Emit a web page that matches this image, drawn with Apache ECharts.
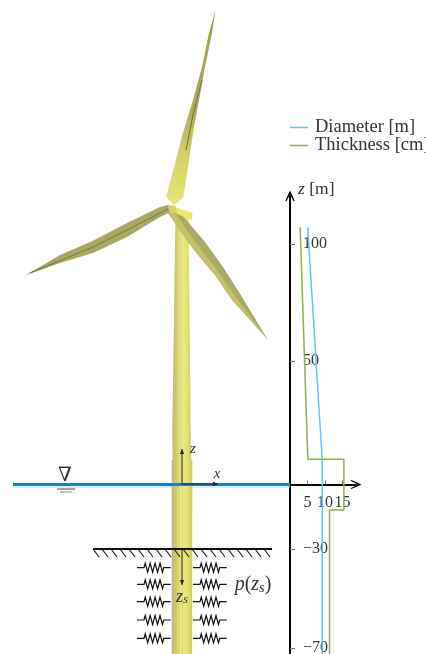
<!DOCTYPE html>
<html>
<head>
<meta charset="utf-8">
<style>
  html, body { margin: 0; padding: 0; background: #fff; overflow: hidden; }
  #main { width: 426px; height: 654px; }
</style>
</head>
<body>
<div id="main"></div>
<script src="https://cdn.jsdelivr.net/npm/echarts@6/dist/echarts.min.js"></script>
<script>
// profile along the tower: [value, z]
const diameter = [[5.05, 107], [9.2, 10.5], [9.2, -70.5]];
const thickness = [[2.9, 107], [5.1, 10.5], [15.4, 10.5], [15.4, -10.6], [11.3, -10.6], [11.3, -70.5]];
const xTicks = [5, 10, 15];
const zTicks = [-68, -26.8, 51.4, 100];   // the reference draws its labels at these heights
const zTickLabels = ['\u221270', '\u221230', '50', '100'];

// turbine sketch, in page pixels of the scene grid
const towerUpper = [[175.5, 215], [188.5, 215], [190.7, 430], [191.2, 460], [172.6, 460], [172.3, 430]];
const towerLower = [[171.7, 460], [192.3, 460], [192, 654], [171.7, 654]];
const bladeTop = [[215.5, 10], [212, 33], [205, 67], [199, 100], [193, 133], [188, 167], [183, 198], [174, 205], [166, 197], [174, 167], [183, 133], [193, 100], [202, 67], [209, 33]];
const bladeLeft = [[25, 275.5], [60, 255], [93, 240.7], [127, 223], [160, 207], [168, 205], [171, 212], [160, 217], [127, 237], [93, 253], [60, 263]];
const bladeRight = [[176, 208], [188, 222], [205, 242], [223, 267], [242, 297], [268, 340], [252, 322], [232, 300], [215, 275], [198, 255], [188, 242], [175, 223], [168, 213]];
const bladeRightBand = [[176, 214], [196, 243], [214, 266], [240, 303], [268, 340], [252, 322], [232, 300], [215, 275], [198, 255], [188, 242], [175, 223], [168, 213]];
const nacelle = [[175, 207], [192.7, 213], [191.7, 220], [173, 212]];
const hub = [[168, 205], [176, 206], [177, 213], [170, 214]];
const stripeTop = [[202, 80], [193, 115], [186, 150]];
const stripeLeft = [[30, 273], [93, 247], [127, 230], [168, 209]];
const waterLine = [[13, 484.5], [290, 484.5]];
const waterHalo = [[13, 487], [290, 487]];
const surfaceMarks = [[[57, 489], [75, 489]], [[60, 492], [72, 492]]];
const soilLine = [[93, 549], [272, 549]];
const hatchStarts = [93, 102, 111, 120, 129, 138, 147, 156, 165, 174, 183, 192, 201, 210, 219, 228, 237, 246, 255, 264];
const springRows = [567.7, 584.3, 601.7, 620, 638.3];
const springSpans = [[137, 170.7], [193, 226.7]];
const localZ = [[182, 484], [182, 449]];
const localX = [[182, 484], [218, 484]];
const localZs = [[182, 549], [182, 585]];
const sceneTexts = [
  { pos: [65, 476], text: '\u2207', size: 20 },
  { pos: [193, 449], text: '{i|z}', size: 15 },
  { pos: [217, 474], text: '{i|x}', size: 15 },
  { pos: [182, 597], text: '{i|z}{s|s}', size: 18 },
  { pos: [253, 585], text: '{i|p}({i|z}{s|s})', size: 20 }
];

const serif = '"Liberation Serif", "DejaVu Serif", serif';
const arrowPath = 'path://M0 11L5 0L10 11L9 12L5 4L1 12Z';

function polygonSeries(points, fill, z) {
  return {
    type: 'custom', xAxisIndex: 0, yAxisIndex: 0, z: z, clip: false, silent: true,
    data: [0],
    renderItem: function (params, api) {
      return {
        type: 'polygon',
        shape: { points: points.map(p => api.coord(p)) },
        style: { fill: fill, stroke: null }
      };
    }
  };
}

function lineSeries(points, color, width, z) {
  return {
    type: 'line', xAxisIndex: 0, yAxisIndex: 0, z: z, data: points, symbol: 'none',
    silent: true, animation: false, lineStyle: { color: color, width: width }
  };
}

// small filled head at the end of a sketch arrow
function arrowHead(points, z) {
  const a = points[0], b = points[1];
  const len = Math.hypot(b[0] - a[0], b[1] - a[1]);
  const ux = (b[0] - a[0]) / len, uy = (b[1] - a[1]) / len;
  return polygonSeries([
    b,
    [b[0] - ux * 5 - uy * 2.2, b[1] - uy * 5 + ux * 2.2],
    [b[0] - ux * 5 + uy * 2.2, b[1] - uy * 5 - ux * 2.2]
  ], '#222', z);
}

const towerFill = new echarts.graphic.LinearGradient(0, 0, 1, 0, [
  { offset: 0, color: '#bdb963' }, { offset: 0.28, color: '#d4d16c' },
  { offset: 0.48, color: '#eeeb87' }, { offset: 0.5, color: '#b9b66a' },
  { offset: 0.54, color: '#ecea82' }, { offset: 0.8, color: '#e2df74' },
  { offset: 1, color: '#cbc862' }
]);
const bladeTopFill = new echarts.graphic.LinearGradient(0, 1, 1, 0, [
  { offset: 0, color: '#e8e676' }, { offset: 0.25, color: '#d2d06a' },
  { offset: 0.5, color: '#aeac5a' }, { offset: 1, color: '#9b9a55' }
]);

const hatchSeries = {
  type: 'custom', xAxisIndex: 0, yAxisIndex: 0, z: 6, silent: true, clip: false,
  data: hatchStarts,
  renderItem: function (params, api) {
    const x = api.value(0);
    const from = api.coord([x, 549]), to = api.coord([x + 6, 557]);
    return {
      type: 'line',
      shape: { x1: from[0], y1: from[1], x2: to[0], y2: to[1] },
      style: { stroke: '#222', lineWidth: 1.2 }
    };
  }
};

const springSeries = {
  type: 'custom', xAxisIndex: 0, yAxisIndex: 0, z: 6, silent: true, clip: false,
  data: springRows,
  renderItem: function (params, api) {
    const y = api.value(0);
    const children = springSpans.map(function (span) {
      const lead = 7, teeth = 8, a = span[0] + lead, b = span[1] - lead;
      const pts = [[span[0], y], [a, y]];
      for (let i = 0; i < teeth; i++) {
        pts.push([a + (b - a) * (i + 0.5) / teeth, y + (i % 2 ? 4.5 : -4.5)]);
      }
      pts.push([b, y], [span[1], y]);
      return {
        type: 'polyline',
        shape: { points: pts.map(p => api.coord(p)) },
        style: { stroke: '#111', lineWidth: 1.2, fill: null }
      };
    });
    return { type: 'group', children: children };
  }
};

const textSeries = {
  type: 'custom', xAxisIndex: 0, yAxisIndex: 0, z: 8, silent: true, clip: false,
  data: sceneTexts.map((t, i) => [t.pos[0], t.pos[1], i]),
  renderItem: function (params, api) {
    const t = sceneTexts[params.dataIndex];
    const c = api.coord(t.pos);
    return {
      type: 'text', x: c[0], y: c[1],
      style: {
        text: t.text, fill: '#333', align: 'center', verticalAlign: 'middle',
        font: t.size + 'px ' + serif,
        rich: {
          i: { fontStyle: 'italic', fontFamily: serif, fontSize: t.size, fill: '#333' },
          s: { fontStyle: 'italic', fontFamily: serif, fontSize: t.size * 0.72, fill: '#333', padding: [6, 0, 0, 0] }
        }
      }
    };
  }
};

const option = {
  animation: false,
  backgroundColor: '#ffffff',
  textStyle: { fontFamily: serif },
  legend: {
    data: ['Diameter [m]', 'Thickness [cm]'],
    orient: 'vertical', left: 290, top: 118, padding: 0,
    itemGap: -1, itemWidth: 18, itemHeight: 1.5, icon: 'rect',
    textStyle: { fontFamily: serif, fontSize: 18.5, color: '#333', padding: [0, 0, 0, 2] }
  },
  grid: [
    { left: 0, right: 0, top: 0, bottom: 0, outerBoundsMode: 'none' },
    { left: 290, right: 70, top: 196, bottom: 0, outerBoundsMode: 'none' }
  ],
  xAxis: [
    { gridIndex: 0, type: 'value', min: 0, max: 426, show: false },
    {
      gridIndex: 1, type: 'value', min: 0, max: 18.86, position: 'bottom', offset: -169.5,
      splitLine: { show: false },
      axisLine: {
        onZero: false,
        symbol: ['none', arrowPath], symbolSize: [12, 11],
        lineStyle: { color: '#000', width: 2 }
      },
      axisTick: { customValues: xTicks, inside: true, length: 4, lineStyle: { color: '#777' } },
      axisLabel: {
        customValues: xTicks, margin: 10, fontSize: 16, color: '#333', fontFamily: serif
      }
    }
  ],
  yAxis: [
    { gridIndex: 0, type: 'value', min: 0, max: 654, inverse: true, show: false },
    {
      gridIndex: 1, type: 'value', min: -70.5, max: 120,
      name: '{i|z} [m]', nameLocation: 'end', nameGap: 7,
      nameTextStyle: {
        align: 'left', verticalAlign: 'middle', padding: [0, 0, 0, 8],
        fontSize: 17.5, color: '#333', fontFamily: serif,
        rich: { i: { fontStyle: 'italic', fontSize: 17.5, color: '#333', fontFamily: serif } }
      },
      splitLine: { show: false },
      axisLine: {
        onZero: false,
        symbol: ['none', arrowPath], symbolSize: [12, 11],
        lineStyle: { color: '#000', width: 2 }
      },
      axisTick: { customValues: zTicks, inside: true, length: 5, lineStyle: { color: '#777' } },
      axisLabel: {
        customValues: zTicks, inside: true, margin: 13, fontSize: 16, color: '#333',
        fontFamily: serif,
        formatter: function (value) { return zTickLabels[zTicks.indexOf(value)]; }
      }
    }
  ],
  series: [
    lineSeries(waterHalo, '#bcdcf0', 1, 1),
    polygonSeries(towerUpper, towerFill, 2),
    polygonSeries(towerLower, towerFill, 2),
    lineSeries(waterLine, '#1c7fc0', 3, 3),
    polygonSeries(bladeLeft, '#a9a863', 4),
    polygonSeries(bladeRight, 'rgba(165,163,98,0.95)', 4),
    polygonSeries(bladeRightBand, '#c3c26a', 4),
    polygonSeries(bladeTop, bladeTopFill, 4),
    polygonSeries(nacelle, '#ecea6e', 5),
    polygonSeries(hub, '#d8d65a', 5),
    lineSeries(stripeTop, '#6f6e3e', 1, 5),
    lineSeries(stripeLeft, '#77764a', 1, 5),
    lineSeries(surfaceMarks[0], '#444', 1, 6),
    lineSeries(surfaceMarks[1], '#888', 1, 6),
    lineSeries(soilLine, '#111', 2, 6),
    hatchSeries,
    springSeries,
    lineSeries(localZ, '#222', 1, 6),
    lineSeries(localX, '#222', 1, 6),
    lineSeries(localZs, '#222', 1, 6),
    arrowHead(localZ, 6),
    arrowHead(localX, 6),
    arrowHead(localZs, 6),
    textSeries,
    {
      name: 'Diameter [m]', type: 'line', xAxisIndex: 1, yAxisIndex: 1, z: 7,
      data: diameter, symbol: 'none', lineStyle: { color: '#5cc5ee', width: 1.5 },
      itemStyle: { color: '#5cc5ee' }
    },
    {
      name: 'Thickness [cm]', type: 'line', xAxisIndex: 1, yAxisIndex: 1, z: 7,
      data: thickness, symbol: 'none', lineStyle: { color: '#8ab34f', width: 1.5 },
      itemStyle: { color: '#8ab34f' }
    }
  ]
};

const myChart = echarts.init(document.getElementById('main'), null, { renderer: 'canvas' });
myChart.setOption(option);
</script>
</body>
</html>
